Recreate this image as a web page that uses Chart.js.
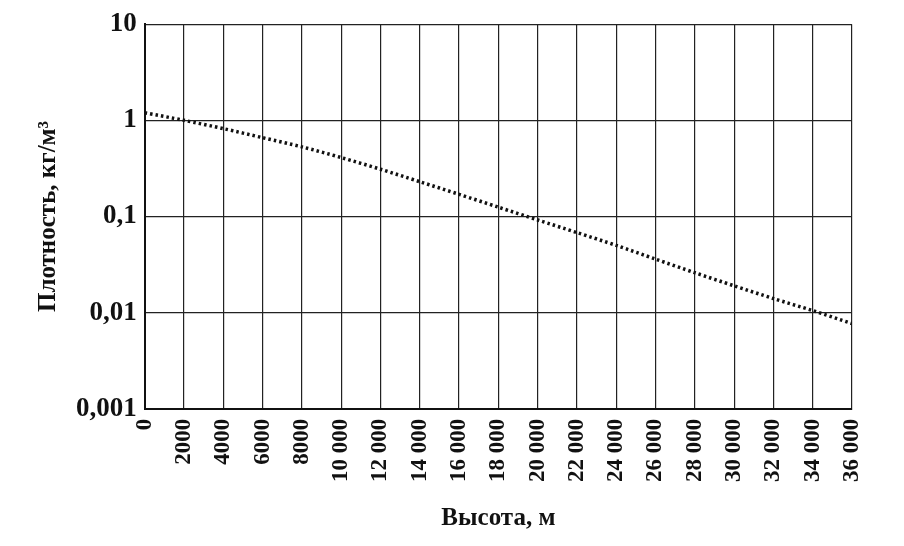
<!DOCTYPE html>
<html>
<head>
<meta charset="utf-8">
<script src="https://cdn.jsdelivr.net/npm/chart.js@4"></script>
<style>
  html, body { margin: 0; background: #fff; }
  #wrap { width: 904px; height: 546px; }
</style>
</head>
<body>
<div id="wrap"><canvas id="c"></canvas></div>
<script>
const heights = [0, 2000, 4000, 6000, 8000, 10000, 12000, 14000, 16000, 18000,
  20000, 22000, 24000, 26000, 28000, 30000, 32000, 34000, 36000];
const density = [1.2, 1.0, 0.82, 0.66, 0.53, 0.41, 0.31, 0.23, 0.17, 0.125,
  0.092, 0.068, 0.05, 0.036, 0.026, 0.019, 0.014, 0.0105, 0.0077];
const yTicks = [0.001, 0.01, 0.1, 1, 10];
const yTickLabels = ["0,001", "0,01", "0,1", "1", "10"];

function fmtX(v) {
  return v >= 10000 ? String(v).replace(/(\d+)(\d{3})$/, "$1 $2") : String(v);
}

const font = { family: "'Liberation Serif', 'DejaVu Serif', serif", size: 23, weight: "bold" };

new Chart(document.getElementById("c"), {
  type: "line",
  data: {
    datasets: [{
      data: heights.map((h, i) => ({ x: h, y: density[i] })),
      borderColor: "#111",
      borderWidth: 3.5,
      borderDash: [2.5, 3],
      pointRadius: 0,
      tension: 0.3,
    }],
  },
  options: {
    responsive: true,
    maintainAspectRatio: false,
    animation: false,
    layout: { padding: { top: 12, right: 52, left: 30, bottom: 8 } },
    plugins: { legend: { display: false }, tooltip: { enabled: false } },
    scales: {
      x: {
        type: "linear",
        min: 0,
        max: 36000,
        afterBuildTicks: (ax) => { ax.ticks = heights.map((v) => ({ value: v })); },
        ticks: { callback: (v) => fmtX(v), minRotation: 90, maxRotation: 90, color: "#111", font, padding: 10 },
        grid: { color: "#222", lineWidth: 1.2, drawTicks: false },
        border: { color: "#111", width: 2 },
        title: { display: true, text: "Высота, м", color: "#111", font: { ...font, size: 25 }, padding: { top: 12 } },
      },
      y: {
        type: "logarithmic",
        min: 0.001,
        max: 10,
        afterBuildTicks: (ax) => { ax.ticks = yTicks.map((v) => ({ value: v })); },
        ticks: { callback: (v) => yTickLabels[yTicks.indexOf(v)] ?? "", color: "#111", font: { ...font, size: 27 }, padding: 8 },
        grid: { color: "#222", lineWidth: 1.2, drawTicks: false },
        border: { color: "#111", width: 2 },
        title: { display: true, text: "Плотность, кг/м³", color: "#111", font: { ...font, size: 25 } },
      },
    },
  },
});
</script>
</body>
</html>
